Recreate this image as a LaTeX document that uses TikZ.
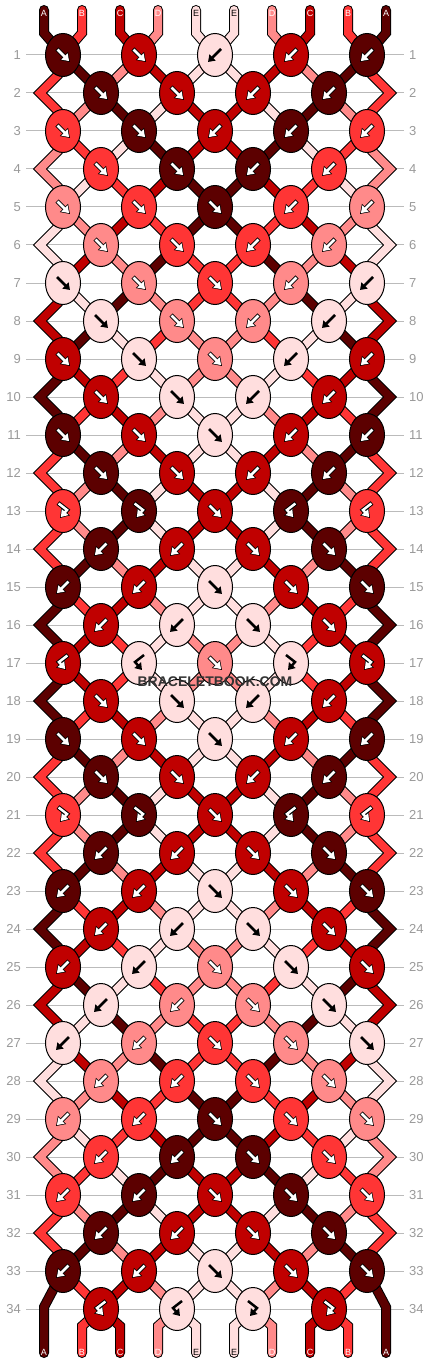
\documentclass[tikz,border=0pt]{standalone}
\usepackage{fontspec}
\setmainfont{Liberation Sans}
\usetikzlibrary{shapes.geometric,arrows.meta}
\pgfdeclarelayer{bg}
\pgfdeclarelayer{fg}
\pgfdeclarelayer{top}
\pgfsetlayers{bg,main,fg,top}
\definecolor{cA}{HTML}{5C0000}
\definecolor{cB}{HTML}{FF3535}
\definecolor{cC}{HTML}{C00000}
\definecolor{cD}{HTML}{FF8A8A}
\definecolor{cE}{HTML}{FFDEDE}
\definecolor{rowgray}{HTML}{BBBBBB}
\definecolor{numgray}{HTML}{999999}
\definecolor{wmgray}{HTML}{333333}
\def\lettE{E}
% string order after each row
\expandafter\def\csname S0\endcsname{A,B,C,D,E,E,D,C,B,A}
\expandafter\def\csname S1\endcsname{B,A,D,C,E,E,C,D,A,B}
\expandafter\def\csname S2\endcsname{B,D,A,E,C,C,E,A,D,B}
\expandafter\def\csname S3\endcsname{D,B,E,A,C,C,A,E,B,D}
\expandafter\def\csname S4\endcsname{D,E,B,C,A,A,C,B,E,D}
\expandafter\def\csname S5\endcsname{E,D,C,B,A,A,B,C,D,E}
\expandafter\def\csname S6\endcsname{E,C,D,A,B,B,A,D,C,E}
\expandafter\def\csname S7\endcsname{C,E,A,D,B,B,D,A,E,C}
\expandafter\def\csname S8\endcsname{C,A,E,B,D,D,B,E,A,C}
\expandafter\def\csname S9\endcsname{A,C,B,E,D,D,E,B,C,A}
\expandafter\def\csname S10\endcsname{A,B,C,D,E,E,D,C,B,A}
\expandafter\def\csname S11\endcsname{B,A,D,C,E,E,C,D,A,B}
\expandafter\def\csname S12\endcsname{B,D,A,E,C,C,E,A,D,B}
\expandafter\def\csname S13\endcsname{B,D,A,E,C,C,E,A,D,B}
\expandafter\def\csname S14\endcsname{B,A,D,C,E,E,C,D,A,B}
\expandafter\def\csname S15\endcsname{A,B,C,D,E,E,D,C,B,A}
\expandafter\def\csname S16\endcsname{A,C,B,E,D,D,E,B,C,A}
\expandafter\def\csname S17\endcsname{A,C,B,E,D,D,E,B,C,A}
\expandafter\def\csname S18\endcsname{A,B,C,D,E,E,D,C,B,A}
\expandafter\def\csname S19\endcsname{B,A,D,C,E,E,C,D,A,B}
\expandafter\def\csname S20\endcsname{B,D,A,E,C,C,E,A,D,B}
\expandafter\def\csname S21\endcsname{B,D,A,E,C,C,E,A,D,B}
\expandafter\def\csname S22\endcsname{B,A,D,C,E,E,C,D,A,B}
\expandafter\def\csname S23\endcsname{A,B,C,D,E,E,D,C,B,A}
\expandafter\def\csname S24\endcsname{A,C,B,E,D,D,E,B,C,A}
\expandafter\def\csname S25\endcsname{C,A,E,B,D,D,B,E,A,C}
\expandafter\def\csname S26\endcsname{C,E,A,D,B,B,D,A,E,C}
\expandafter\def\csname S27\endcsname{E,C,D,A,B,B,A,D,C,E}
\expandafter\def\csname S28\endcsname{E,D,C,B,A,A,B,C,D,E}
\expandafter\def\csname S29\endcsname{D,E,B,C,A,A,C,B,E,D}
\expandafter\def\csname S30\endcsname{D,B,E,A,C,C,A,E,B,D}
\expandafter\def\csname S31\endcsname{B,D,A,E,C,C,E,A,D,B}
\expandafter\def\csname S32\endcsname{B,A,D,C,E,E,C,D,A,B}
\expandafter\def\csname S33\endcsname{A,B,C,D,E,E,D,C,B,A}
% knots: colour/type
\expandafter\def\csname K1\endcsname{A/F,C/F,E/B,C/B,A/B}
\expandafter\def\csname K2\endcsname{A/F,C/F,C/B,A/B}
\expandafter\def\csname K3\endcsname{B/F,A/F,C/B,A/B,B/B}
\expandafter\def\csname K4\endcsname{B/F,A/F,A/B,B/B}
\expandafter\def\csname K5\endcsname{D/F,B/F,A/F,B/B,D/B}
\expandafter\def\csname K6\endcsname{D/F,B/F,B/B,D/B}
\expandafter\def\csname K7\endcsname{E/F,D/F,B/F,D/B,E/B}
\expandafter\def\csname K8\endcsname{E/F,D/F,D/B,E/B}
\expandafter\def\csname K9\endcsname{C/F,E/F,D/F,E/B,C/B}
\expandafter\def\csname K10\endcsname{C/F,E/F,E/B,C/B}
\expandafter\def\csname K11\endcsname{A/F,C/F,E/F,C/B,A/B}
\expandafter\def\csname K12\endcsname{A/F,C/F,C/B,A/B}
\expandafter\def\csname K13\endcsname{B/FB,A/FB,C/F,A/BF,B/BF}
\expandafter\def\csname K14\endcsname{A/B,C/B,C/F,A/F}
\expandafter\def\csname K15\endcsname{A/B,C/B,E/F,C/F,A/F}
\expandafter\def\csname K16\endcsname{C/B,E/B,E/F,C/F}
\expandafter\def\csname K17\endcsname{C/BF,E/BF,D/F,E/FB,C/FB}
\expandafter\def\csname K18\endcsname{C/F,E/F,E/B,C/B}
\expandafter\def\csname K19\endcsname{A/F,C/F,E/F,C/B,A/B}
\expandafter\def\csname K20\endcsname{A/F,C/F,C/B,A/B}
\expandafter\def\csname K21\endcsname{B/FB,A/FB,C/F,A/BF,B/BF}
\expandafter\def\csname K22\endcsname{A/B,C/B,C/F,A/F}
\expandafter\def\csname K23\endcsname{A/B,C/B,E/F,C/F,A/F}
\expandafter\def\csname K24\endcsname{C/B,E/B,E/F,C/F}
\expandafter\def\csname K25\endcsname{C/B,E/B,D/F,E/F,C/F}
\expandafter\def\csname K26\endcsname{E/B,D/B,D/F,E/F}
\expandafter\def\csname K27\endcsname{E/B,D/B,B/F,D/F,E/F}
\expandafter\def\csname K28\endcsname{D/B,B/B,B/F,D/F}
\expandafter\def\csname K29\endcsname{D/B,B/B,A/F,B/F,D/F}
\expandafter\def\csname K30\endcsname{B/B,A/B,A/F,B/F}
\expandafter\def\csname K31\endcsname{B/B,A/B,C/F,A/F,B/F}
\expandafter\def\csname K32\endcsname{A/B,C/B,C/F,A/F}
\expandafter\def\csname K33\endcsname{A/B,C/B,E/F,C/F,A/F}
\expandafter\def\csname K34\endcsname{C/BF,E/BF,E/FB,C/FB}
% arrow shapes
\def\ksetF{\def\kax{-6}\def\kay{-6}\def\kbx{0}\def\kby{0}\def\kcx{7}\def\kcy{7}}
\def\ksetB{\def\kax{6}\def\kay{-6}\def\kbx{0}\def\kby{0}\def\kcx{-7}\def\kcy{7}}
\def\ksetFB{\def\kax{-5}\def\kay{-8}\def\kbx{4}\def\kby{-1}\def\kcx{-3}\def\kcy{7}}
\def\ksetBF{\def\kax{5}\def\kay{-8}\def\kbx{-4}\def\kby{-1}\def\kcx{3}\def\kcy{7}}
\begin{document}
\begin{tikzpicture}[x=1pt,y=-1pt,
  knot/.style={ellipse,draw=black,line width=1pt,minimum width=35pt,minimum height=43pt,inner sep=0pt},
  strand/.style={draw=black,line width=1pt,double=#1,double distance=8pt},
  rowline/.style={draw=rowgray,line width=1pt},
  rownum/.style={font=\fontsize{13}{13}\selectfont,text=numgray,inner sep=0pt},
  lbl/.style={font=\fontsize{9}{9}\selectfont,inner sep=0pt},
  arrout/.style={draw=black,line width=4.5pt,-{Triangle[length=8.5pt,width=11pt]}},
  arrin/.style={draw=white,line width=2.5pt,shorten >=1.3pt,shorten <=0.8pt,-{Triangle[length=6.5pt,width=8.5pt]}},
  arrblack/.style={draw=black,line width=2.5pt,-{Triangle[length=6.5pt,width=8.5pt]}},
  wmark/.style={font=\bfseries\fontsize{14}{14}\selectfont,text=wmgray,inner sep=0pt}]
\useasboundingbox (0,0) rectangle (430,1364);
% row guides
\begin{pgfonlayer}{bg}
\foreach \r in {1,...,34}{%
  \pgfmathsetmacro\ky{55+38*(\r-1)}%
  \node[rownum,anchor=east] (ln\r) at (21,\ky) {\r};
  \node[rownum,anchor=west] (rn\r) at (409,\ky) {\r};
  \draw[rowline] ([xshift=5pt]ln\r.east) -- ([xshift=-5pt]rn\r.west);
}
\end{pgfonlayer}
% knots
\begin{pgfonlayer}{fg}
\foreach \r in {1,...,34}{%
  \pgfmathtruncatemacro\kodd{mod(\r,2)}%
  \pgfmathsetmacro\ky{55+38*(\r-1)}%
  \ifnum\kodd=1 \def\kxo{63}\else\def\kxo{101}\fi
  \edef\klist{\csname K\r\endcsname}%
  \foreach \kc/\kt [count=\i] in \klist {%
    \pgfmathsetmacro\kx{\kxo+76*(\i-1)}%
    \node[knot,fill=c\kc] (k\r-\i) at (\kx,\ky) {};
    \csname kset\kt\endcsname
    \edef\kcc{\kc}%
    \ifx\kcc\lettE
      \draw[arrblack,shift={(\kx,\ky)}] (\kax,\kay) -- (\kbx,\kby) -- (\kcx,\kcy);
    \else
      \draw[arrout,shift={(\kx,\ky)}] (\kax,\kay) -- (\kbx,\kby) -- (\kcx,\kcy);
      \draw[arrin,shift={(\kx,\ky)}] (\kax,\kay) -- (\kbx,\kby) -- (\kcx,\kcy);
    \fi
  }%
}
\end{pgfonlayer}
% strands between knots
\foreach \r in {1,...,33}{%
  \pgfmathtruncatemacro\kodd{mod(\r,2)}%
  \pgfmathtruncatemacro\rn{\r+1}%
  \pgfmathtruncatemacro\rnn{\r+2}%
  \pgfmathsetmacro\ky{55+38*(\r-1)}%
  \edef\slist{\csname S\r\endcsname}%
  \foreach \sc [count=\p] in \slist {%
    \pgfmathtruncatemacro\ia{(\p+1)/2}%
    \pgfmathtruncatemacro\ib{\p/2}%
    \ifnum\kodd=1
      \ifnum\p=1
        \ifnum\r<33 \draw[strand=c\sc] (k\r-1.center) -- (58,\ky+20) -- (40,\ky+38) -- (58,\ky+56) -- (k\rnn-1.center);\fi
      \else\ifnum\p=10
        \ifnum\r<33 \draw[strand=c\sc] (k\r-5.center) -- (372,\ky+20) -- (390,\ky+38) -- (372,\ky+56) -- (k\rnn-5.center);\fi
      \else
        \draw[strand=c\sc] (k\r-\ia.center) -- (k\rn-\ib.center);
      \fi\fi
    \else
      \ifnum\p=1 \else\ifnum\p=10 \else
        \draw[strand=c\sc] (k\r-\ib.center) -- (k\rn-\ia.center);
      \fi\fi
    \fi
  }%
}
% free ends at top and bottom
\foreach \sc [count=\p] in {A,B,C,D,E,E,D,C,B,A}{%
  \pgfmathsetmacro\sx{44+38*(\p-1)}%
  \pgfmathtruncatemacro\ia{(\p+1)/2}%
  \pgfmathtruncatemacro\ib{\p/2}%
  \coordinate (top\p) at (\sx,10);
  \coordinate (bot\p) at (\sx,1353);
  \draw[strand=c\sc,line cap=round] (top\p) -- (\sx,33) -- (k1-\ia.center);
  \ifnum\p=1
    \draw[strand=c\sc,line cap=round] (k33-1.center) -- (\sx,1307) -- (bot\p);
  \else\ifnum\p=10
    \draw[strand=c\sc,line cap=round] (k33-5.center) -- (\sx,1307) -- (bot\p);
  \else
    \draw[strand=c\sc,line cap=round] (k34-\ib.center) -- (\sx,1326) -- (bot\p);
  \fi\fi
  \edef\kcc{\sc}%
  \ifx\kcc\lettE \def\lcol{black}\else\def\lcol{white}\fi
  \begin{pgfonlayer}{top}
    \node[lbl,text=\lcol] (tl\p) at (\sx,13) {\sc};
    \node[lbl,text=\lcol] (bl\p) at (\sx,1352) {\sc};
  \end{pgfonlayer}
}
\begin{pgfonlayer}{top}
\node[wmark] (wm) at (215,681.5) {BRACELETBOOK.COM};
\end{pgfonlayer}
\end{tikzpicture}
\end{document}
